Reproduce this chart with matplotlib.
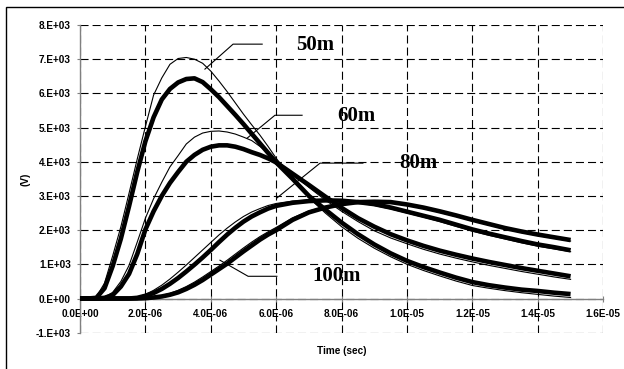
import numpy as np
import matplotlib
matplotlib.use("Agg")
from matplotlib import pyplot as plt
from matplotlib.patches import Rectangle

plt.rcParams['lines.scale_dashes'] = False

# time axis in microseconds, voltages in kV
t_us = [0, 0.25, 0.5, 0.75, 1.0, 1.25, 1.5, 1.75, 2.0, 2.25, 2.5, 2.75, 3.0, 3.25, 3.5, 3.75,
        4.0, 4.25, 4.5, 4.75, 5.0, 5.25, 5.5, 5.75, 6.0, 6.5, 7.0, 7.5, 8.0, 8.5, 9.0, 9.5,
        10.0, 10.5, 11.0, 11.5, 12.0, 12.5, 13.0, 13.5, 14.0, 14.5, 15.0]

v50_thick = [0, 0, 0.02, 0.3, 0.95, 1.75, 2.7, 3.7, 4.6, 5.3, 5.82, 6.13, 6.32, 6.42, 6.44, 6.33,
             6.12, 5.89, 5.63, 5.37, 5.1, 4.82, 4.54, 4.26, 3.98, 3.5, 3.0, 2.6, 2.22, 1.88, 1.58, 1.32,
             1.1, 0.92, 0.76, 0.61, 0.48, 0.39, 0.32, 0.26, 0.22, 0.17, 0.13]
v50_thin = [0, 0, 0.05, 0.45, 1.25, 2.1, 3.08, 4.08, 5.03, 5.95, 6.45, 6.85, 7.02, 7.05, 7.0, 6.88,
            6.65, 6.36, 6.05, 5.72, 5.39, 5.08, 4.78, 4.45, 4.1, 3.5, 2.95, 2.5, 2.1, 1.76, 1.47, 1.22,
            1.0, 0.82, 0.66, 0.51, 0.38, 0.3, 0.23, 0.17, 0.12, 0.07, 0.03]

v60_thick = [0, 0, 0, 0.02, 0.1, 0.35, 0.72, 1.3, 2.02, 2.55, 3.0, 3.38, 3.7, 4.0, 4.2, 4.35,
             4.44, 4.48, 4.48, 4.44, 4.37, 4.28, 4.2, 4.1, 3.98, 3.65, 3.32, 2.98, 2.65, 2.35, 2.1, 1.88,
             1.7, 1.54, 1.4, 1.28, 1.17, 1.07, 0.98, 0.89, 0.81, 0.73, 0.65]
v60_thin = [0, 0, 0, 0.04, 0.18, 0.5, 0.97, 1.65, 2.35, 2.92, 3.4, 3.85, 4.18, 4.52, 4.72, 4.84,
            4.89, 4.9, 4.87, 4.81, 4.72, 4.62, 4.45, 4.26, 4.05, 3.65, 3.25, 2.88, 2.55, 2.25, 1.98, 1.77,
            1.6, 1.44, 1.3, 1.18, 1.07, 0.97, 0.88, 0.79, 0.71, 0.63, 0.56]

v80_thick = [0, 0, 0, 0, 0, 0, 0, 0.02, 0.08, 0.16, 0.28, 0.43, 0.6, 0.79, 0.99, 1.2,
             1.42, 1.65, 1.87, 2.07, 2.25, 2.4, 2.52, 2.63, 2.71, 2.8, 2.85, 2.87, 2.86, 2.82, 2.76, 2.66,
             2.54, 2.42, 2.3, 2.16, 2.02, 1.9, 1.79, 1.68, 1.58, 1.5, 1.41]
v80_thin = [0, 0, 0, 0, 0, 0, 0.01, 0.04, 0.12, 0.24, 0.39, 0.57, 0.77, 0.98, 1.2, 1.42,
            1.64, 1.86, 2.06, 2.24, 2.4, 2.53, 2.63, 2.72, 2.78, 2.85, 2.88, 2.88, 2.85, 2.8, 2.72, 2.62,
            2.5, 2.38, 2.25, 2.11, 1.97, 1.85, 1.74, 1.63, 1.53, 1.45, 1.37]

v100_thick = [0, 0, 0, 0, 0, 0, 0, 0, 0.01, 0.03, 0.06, 0.11, 0.18, 0.28, 0.4, 0.54,
              0.7, 0.86, 1.02, 1.2, 1.38, 1.55, 1.72, 1.87, 2.0, 2.3, 2.52, 2.66, 2.76, 2.82, 2.83, 2.82,
              2.75, 2.66, 2.55, 2.43, 2.3, 2.18, 2.06, 1.96, 1.87, 1.79, 1.71]
v100_thin = [0, 0, 0, 0, 0, 0, 0, 0, 0.02, 0.05, 0.09, 0.15, 0.24, 0.35, 0.48, 0.63,
             0.79, 0.95, 1.12, 1.3, 1.48, 1.65, 1.81, 1.95, 2.08, 2.36, 2.56, 2.69, 2.78, 2.83, 2.83, 2.8,
             2.73, 2.63, 2.52, 2.4, 2.27, 2.15, 2.03, 1.93, 1.84, 1.76, 1.68]

x_ticks = [0, 2, 4, 6, 8, 10, 12, 14, 16]
x_ticklabels = ['0.0E+00', '2.0E-06', '4.0E-06', '6.0E-06', '8.0E-06',
                '1.0E-05', '1.2E-05', '1.4E-05', '1.6E-05']
y_ticks = [-1, 0, 1, 2, 3, 4, 5, 6, 7, 8]
y_ticklabels = ['-1.E+03', '0.E+00', '1.E+03', '2.E+03', '3.E+03', '4.E+03',
                '5.E+03', '6.E+03', '7.E+03', '8.E+03']

# label text, text anchor, leader line points (elbow, end of horizontal, end on curve)
labels = ['50m', '60m', '80m', '100m']
label_pos = [(6.62, 7.41), (7.86, 5.34), (9.76, 3.96), (7.09, 0.66)]
leader_x = [[3.82, 4.68, 5.57], [5.11, 5.96, 6.79], [6.02, 7.34, 8.65], [4.28, 5.14, 6.02]]
leader_y = [[6.71, 7.44, 7.44], [4.69, 5.36, 5.36], [2.94, 3.96, 3.96], [1.12, 0.65, 0.65]]

fig = plt.figure(figsize=(6.24, 3.69), dpi=100)
ax = fig.add_axes([80 / 624, 1 - 332.7 / 369, (603.3 - 80) / 624, (332.7 - 25) / 369])

for thick, thin in [(v50_thick, v50_thin), (v60_thick, v60_thin),
                    (v80_thick, v80_thin), (v100_thick, v100_thin)]:
    ax.plot(t_us, thick, color='black', lw=3.3, solid_capstyle='butt', zorder=3)
    ax.plot(t_us, thin, color='black', lw=0.8, zorder=4)

for name, pos, lx, ly in zip(labels, label_pos, leader_x, leader_y):
    ax.plot(lx, ly, color='black', lw=0.8, zorder=5)
    ax.text(pos[0], pos[1], name, fontfamily='Liberation Serif', fontweight='bold',
            fontsize=15, ha='left', va='center', zorder=6)

ax.set_xlim(0, 16)
ax.set_ylim(-1, 8)
ax.set_xticks(x_ticks)
ax.set_xticklabels(x_ticklabels)
ax.set_yticks(y_ticks)
ax.set_yticklabels(y_ticklabels)
ax.grid(True, color='black', lw=0.8, ls=(0, (5.8, 2.9)), zorder=1)

ax.spines['top'].set_visible(False)
ax.spines['right'].set_visible(False)
ax.spines['bottom'].set_position(('data', 0))
ax.spines['bottom'].set_color('#808080')
ax.spines['left'].set_color('#808080')
ax.spines['bottom'].set_linewidth(1.0)
ax.spines['left'].set_linewidth(1.0)
ax.spines['bottom'].set_zorder(2)

ax.tick_params(axis='x', direction='inout', length=4.3, width=0.8, color='#808080', pad=5.5)
ax.tick_params(axis='y', direction='out', length=2.2, width=0.8, color='#808080', pad=4.5)
for lab in ax.get_xticklabels() + ax.get_yticklabels():
    lab.set_fontfamily('Liberation Sans')
    lab.set_fontweight('bold')
    lab.set_fontsize(7.2)

fig.text(341.5 / 624, 1 - 350.7 / 369, 'Time (sec)', ha='center', va='center',
         fontfamily='Liberation Sans', fontweight='bold', fontsize=7.2)
fig.text(25 / 624, 1 - 179 / 369, '(V)', ha='center', va='center', rotation=90,
         fontfamily='Liberation Sans', fontweight='bold', fontsize=7.2)

fig.add_artist(Rectangle((6 / 624, -0.05), 1.0, 1.05 - 7.5 / 369, transform=fig.transFigure,
                         fill=False, lw=1.0, ec='black'))

fig.savefig('out.png', dpi=100)
